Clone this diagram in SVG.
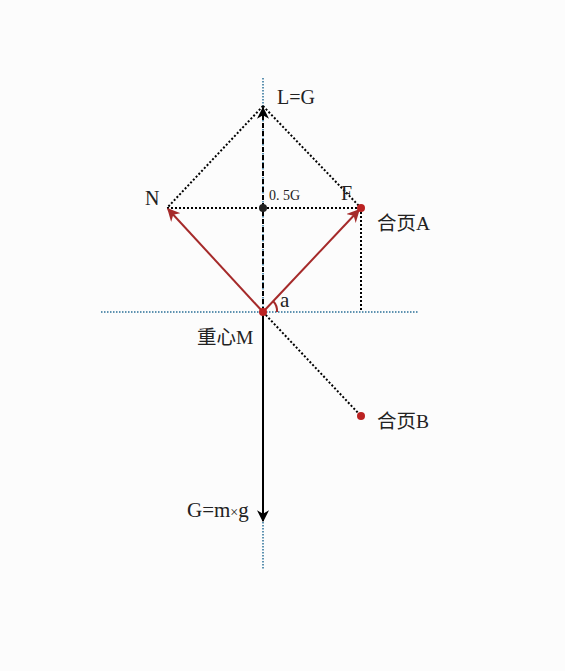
<svg xmlns="http://www.w3.org/2000/svg" width="565" height="671" viewBox="0 0 565 671">
<defs>
<marker id="ab2" viewBox="0 0 10 10" refX="9" refY="5" markerWidth="12" markerHeight="12" orient="auto" markerUnits="userSpaceOnUse"><path d="M0,0 L10,5 L0,10 L3,5 Z" fill="#000"/></marker>
<marker id="ar" viewBox="0 0 10 10" refX="9" refY="5" markerWidth="13" markerHeight="13" orient="auto" markerUnits="userSpaceOnUse"><path d="M0,0 L10,5 L0,10 L3,5 Z" fill="#a52a2a"/></marker>
</defs>
<style>
.t{font-family:"Liberation Serif","Noto Sans CJK SC",serif;fill:#222;}
.blue{stroke:#2a6f97;stroke-width:1.5;stroke-dasharray:1.5 1.5;fill:none;}
.dot{stroke:#000;stroke-width:2;stroke-dasharray:2 2;fill:none;}
.red{stroke:#a52a2a;stroke-width:2;fill:none;}
</style>
<rect width="565" height="671" fill="#fcfcfc"/>
<g id="connectors">
<line class="blue" x1="263" y1="78" x2="263" y2="570"/>
<line class="blue" x1="101" y1="312" x2="419" y2="312"/>
<line stroke="#000" stroke-width="2" stroke-dasharray="5 3" x1="263" y1="312" x2="263" y2="108" marker-end="url(#ab2)"/>
<line class="dot" x1="263" y1="106" x2="167" y2="208"/>
<line class="dot" x1="263" y1="106" x2="361" y2="208"/>
<line class="dot" x1="167" y1="208" x2="361" y2="208"/>
<line class="dot" x1="361" y1="208" x2="361" y2="312"/>
<line class="dot" x1="263" y1="312" x2="361" y2="416"/>
<line stroke="#000" stroke-width="2" x1="263" y1="312" x2="263" y2="521" marker-end="url(#ab2)"/>
<line class="red" x1="263" y1="312" x2="168" y2="209" marker-end="url(#ar)"/>
<line class="red" x1="263" y1="312" x2="359" y2="210" marker-end="url(#ar)"/>
<path class="red" stroke-width="1.5" d="M273,301 A14,14 0 0 1 277,312"/>
</g>
<g id="L"><text class="t" x="277" y="104" font-size="20">L=G</text></g>
<g id="N"><text class="t" x="145" y="205" font-size="20">N</text></g>
<g id="half"><circle cx="263" cy="208" r="4" fill="#222"/><text class="t" x="269" y="200" font-size="14">0. 5G</text></g>
<g id="F"><text class="t" x="341" y="200" font-size="20">F</text></g>
<g id="A"><circle cx="361" cy="208" r="4" fill="#b22"/><text class="t" x="377" y="230" font-size="19.5">合页A</text></g>
<g id="a"><text class="t" x="280" y="307" font-size="21">a</text></g>
<g id="M"><circle cx="263" cy="312" r="4" fill="#b22"/><text class="t" x="197" y="344" font-size="19.5">重心M</text></g>
<g id="B"><circle cx="361" cy="416" r="4" fill="#b22"/><text class="t" x="377" y="428" font-size="19.5">合页B</text></g>
<g id="G"><text class="t" x="187" y="517" font-size="21">G=m<tspan font-size="14">×</tspan>g</text></g>
</svg>
